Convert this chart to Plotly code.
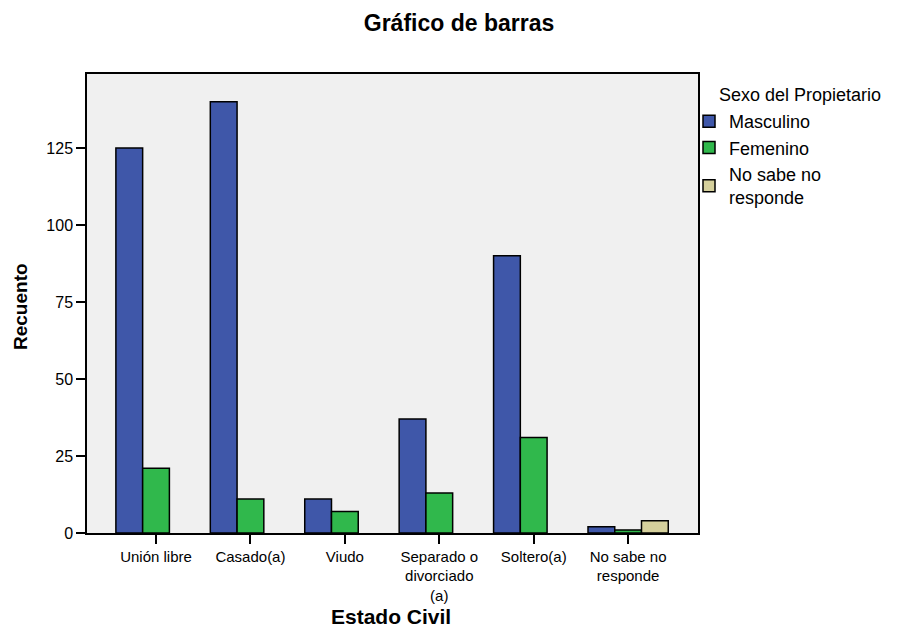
import plotly.graph_objects as go

categories = ["Unión libre", "Casado(a)", "Viudo", "Separado o<br>divorciado<br>(a)", "Soltero(a)", "No sabe no<br>responde"]
masculino = [125, 140, 11, 37, 90, 2]
femenino = [21, 11, 7, 13, 31, 1]
no_sabe = [None, None, None, None, None, 4]

series = [
    ("Masculino", masculino, "#3F57A9"),
    ("Femenino", femenino, "#30B84C"),
    ("No sabe no<br>responde", no_sabe, "#D5D09C"),
]

fig = go.Figure()
for name, vals, col in series:
    fig.add_trace(go.Bar(
        x=categories, y=vals, name=name,
        marker=dict(color=col, line=dict(color="black", width=1.5)),
    ))

# page body has an 8px offset; plot area target: x 87-698, y 74-533 on screen
L, T, R, B = 79, 66, 214, 104
PW = 904 - L - R
PH = 629 - T - B

def px_x(sx):
    return (sx - 8 - L) / PW

def px_y(sy):
    return 1 - (sy - 8 - T) / PH

font_family = "Arial, Liberation Sans, sans-serif"
fig.update_layout(
    width=904, height=629,
    barmode="group", bargap=0.15, bargroupgap=0,
    paper_bgcolor="white", plot_bgcolor="#F0F0F0",
    margin=dict(l=L, r=R, t=T, b=B, autoexpand=False),
    font=dict(family=font_family, color="black", size=16),
    title=dict(text="<b>Gráfico de barras</b>", x=(459 - 8) / 904, xref="container", xanchor="center",
               y=1 - (23 - 8) / 629, yref="container", yanchor="middle", font=dict(size=23)),
    legend=dict(x=px_x(689), xanchor="left", y=px_y(103), yanchor="top",
                font=dict(size=18), bgcolor="rgba(0,0,0,0)", tracegroupgap=1, itemwidth=30),
    xaxis=dict(
        range=[-0.731, 5.74], showline=True, linecolor="black", linewidth=1.5, mirror=True,
        ticks="outside", ticklen=9, tickwidth=1.5, tickcolor="black",
        showgrid=False, zeroline=False,
        tickfont=dict(size=15),
    ),
    yaxis=dict(
        range=[0, 149], showline=True, linecolor="black", linewidth=1.5, mirror=True,
        ticks="outside", ticklen=9, tickwidth=1.5, tickcolor="black",
        tickvals=[0, 25, 50, 75, 100, 125],
        showgrid=False, zeroline=False,
        tickfont=dict(size=16),
    ),
    annotations=[
        dict(text="<b>Estado Civil</b>", xref="paper", yref="paper",
             x=px_x(391), y=px_y(616), xanchor="center", yanchor="middle",
             showarrow=False, font=dict(size=21)),
        dict(text="<b>Recuento</b>", xref="paper", yref="paper", textangle=-90,
             x=px_x(20), y=px_y(307), xanchor="center", yanchor="middle",
             showarrow=False, font=dict(size=19)),
        dict(text="Sexo del Propietario", xref="paper", yref="paper",
             x=px_x(717), y=px_y(95), xanchor="left", yanchor="middle",
             showarrow=False, font=dict(size=18)),
    ],
)

fig.write_html("out.html")
